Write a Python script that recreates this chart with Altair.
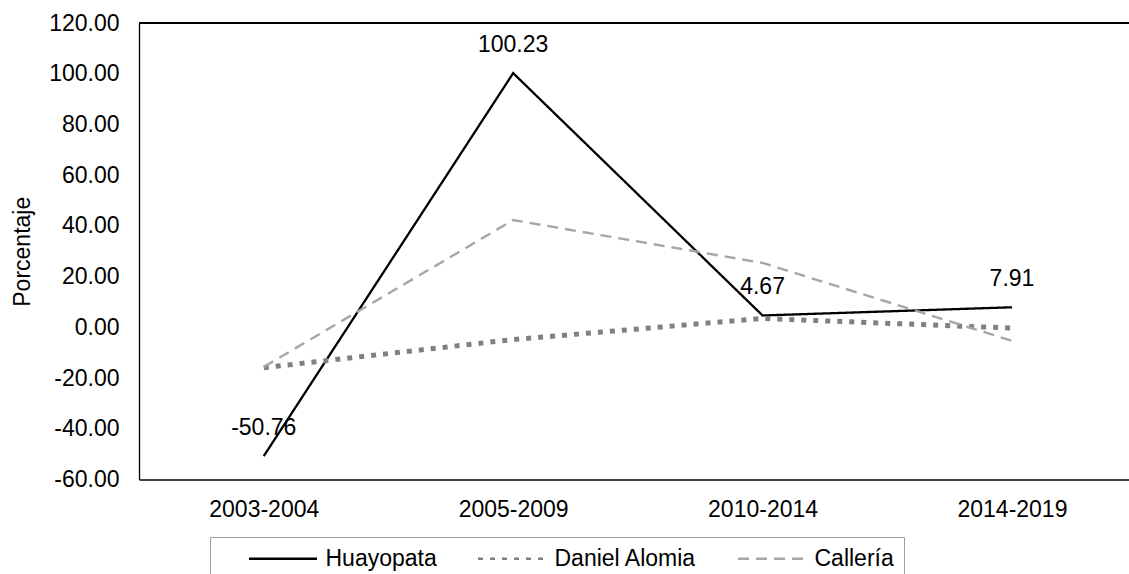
import altair as alt
import pandas as pd

categories = ["2003-2004", "2005-2009", "2010-2014", "2014-2019"]
series_names = ["Huayopata", "Daniel Alomia", "Callería"]
huayopata = [-50.76, 100.23, 4.67, 7.91]
daniel_alomia = [-15.9, -4.8, 3.5, -0.3]
calleria = [-15.6, 42.3, 25.4, -5.3]
y_ticks = [-60, -40, -20, 0, 20, 40, 60, 80, 100, 120]
series_colors = ["#000000", "#808080", "#a6a6a6"]
series_dashes = [[1, 0], [5, 7], [11, 7]]
series_widths = [2.3, 5, 2.4]

rows = []
for name, vals, w in zip(series_names, [huayopata, daniel_alomia, calleria], series_widths):
    for c, v in zip(categories, vals):
        rows.append({"periodo": c, "serie": name, "valor": v, "ancho": w})
df = pd.DataFrame(rows)
lab = pd.DataFrame({
    "periodo": categories,
    "valor": huayopata,
    "texto": [f"{v:.2f}" for v in huayopata],
})

FONT = "Liberation Sans"

x_scale = alt.Scale(type="point", padding=0.4848, align=0.516)
x_axis = alt.Axis(title=None, labelAngle=0, ticks=False, domainColor="black",
                  domainWidth=1.3, labelPadding=19, labelFontSize=23,
                  labelColor="black", labelFont=FONT)
y_scale = alt.Scale(domain=[-60, 120], nice=False, zero=False)
y_axis = alt.Axis(values=y_ticks,
                  labelExpr="replace(format(datum.value, '.2f'), '\u2212', '-')",
                  grid=False, ticks=False, domainColor="black", domainWidth=1.3,
                  labelPadding=20, labelFontSize=23, labelColor="black",
                  labelFont=FONT, title="Porcentaje", titleFontSize=23,
                  titleFont=FONT, titleFontWeight="normal", titleColor="black",
                  titlePadding=14)

leg = alt.Legend(title=None, orient="none", legendX=71, legendY=514,
                 direction="horizontal", symbolType="stroke", symbolSize=4624,
                 symbolStrokeWidth=2.6,
                 clipHeight=23, symbolOffset=27.5, labelOffset=7,
                 columnPadding=12, padding=10, strokeColor="#a0a0a0",
                 labelFontSize=23, labelFont=FONT, labelColor="black")

lines = alt.Chart(df).mark_line().encode(
    x=alt.X("periodo:N", sort=categories, scale=x_scale, axis=x_axis),
    y=alt.Y("valor:Q", scale=y_scale, axis=y_axis, title="Porcentaje"),
    color=alt.Color("serie:N", sort=series_names,
                    scale=alt.Scale(domain=series_names, range=series_colors), legend=leg),
    strokeDash=alt.StrokeDash("serie:N", sort=series_names,
                              scale=alt.Scale(domain=series_names, range=series_dashes), legend=leg),
    strokeWidth=alt.StrokeWidth("ancho:Q", scale=None),
    order=alt.Order("periodo:N"),
)

labels = alt.Chart(lab).mark_text(dy=-21.5, baseline="alphabetic", align="center",
                                  fontSize=23, font=FONT, color="black").encode(
    x=alt.X("periodo:N", sort=categories, scale=x_scale, axis=x_axis),
    y=alt.Y("valor:Q", scale=y_scale, axis=y_axis, title="Porcentaje"),
    text="texto:N",
)

top_border = alt.Chart(lab).mark_rule(color="black", strokeWidth=1.3).encode(
    y=alt.YDatum(120, type="quantitative"),
)

chart = alt.layer(lines, labels, top_border).properties(
    width=990,
    height=456.5,
    padding={"left": 139, "top": 23, "right": 0, "bottom": 94.5},
    autosize=alt.AutoSizeParams(type="none"),
    background="white",
).configure_view(stroke=None)

chart.save("out.html", embed_options={"renderer": "svg", "actions": False})
